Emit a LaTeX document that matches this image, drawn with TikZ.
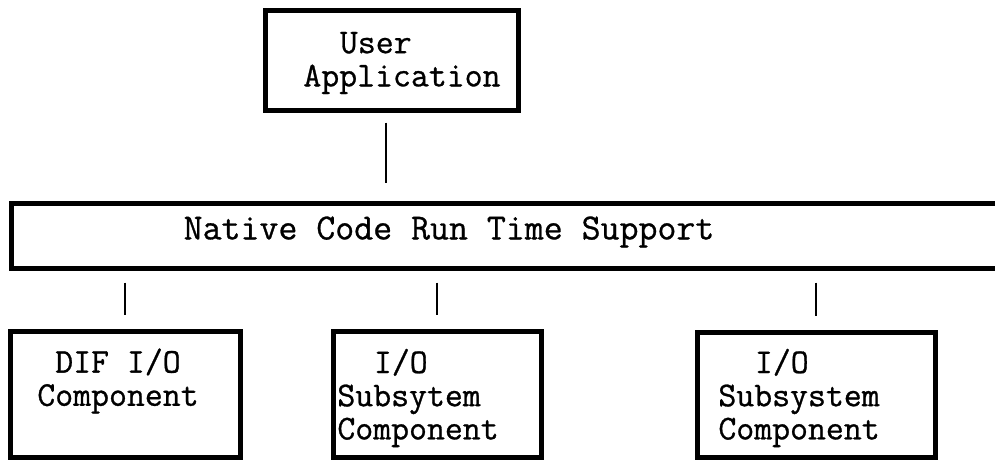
\documentclass[tikz,border=0pt]{standalone}
\usepackage{fontspec}
\newfontfamily\typer{Latin Modern Mono}[FakeBold=0.8]
\usepackage{tikz}

\tikzset{
  unit/.style={draw, line width=2.5pt, inner sep=0pt},
  txt/.style={font=\typer\fontsize{17.4}{16.6}\selectfont, inner sep=0pt},
  link/.style={line width=1pt},
}

\begin{document}
\begin{tikzpicture}[x=0.5pt, y=-0.5pt]
  \useasboundingbox (0,0) rectangle (995,461);
  \clip (0,0) rectangle (995,461);
  % application on top
  \node[unit, minimum width=126.5pt, minimum height=50pt] (app) at (391.5,60) {};
  \node[txt, align=left, anchor=west] (apptext) at (303,63) {\hspace*{1.05em}User\\Application};
  % run time layer, open to the right
  \node[unit, minimum width=500pt, minimum height=32.5pt, anchor=west] (rts) at (9,235.5) {};
  \node[txt, font=\typer\fontsize{18.4}{18}\selectfont] (rtstext) at (449,232) {Native Code Run Time Support};
  % components below
  \node[unit, minimum width=115pt, minimum height=63pt] (dif) at (125,394) {};
  \node[unit, minimum width=104pt, minimum height=63pt] (subA) at (437,394) {};
  \node[unit, minimum width=119pt, minimum height=62.5pt] (subB) at (816,394.5) {};
  \node[txt, align=center] (diftext) at (118,381) {DIF I/O\\Component};
  \node[txt, align=left, anchor=west] (subAtext) at (337,398) {\hspace*{1.05em}I/O\\Subsytem\\Component};
  \node[txt, align=left, anchor=west] (subBtext) at (718,398) {\hspace*{1.05em}I/O\\Subsystem\\Component};
  % connections
  \draw[link, shorten <=5pt, shorten >=9pt] ([xshift=-3pt]app.south) -- ([xshift=-3pt]app.south |- rts.north);
  \foreach \b in {dif,subA,subB}
    \draw[link, shorten <=6pt, shorten >=7pt] (\b.north |- rts.south) -- (\b.north);
\end{tikzpicture}
\end{document}
